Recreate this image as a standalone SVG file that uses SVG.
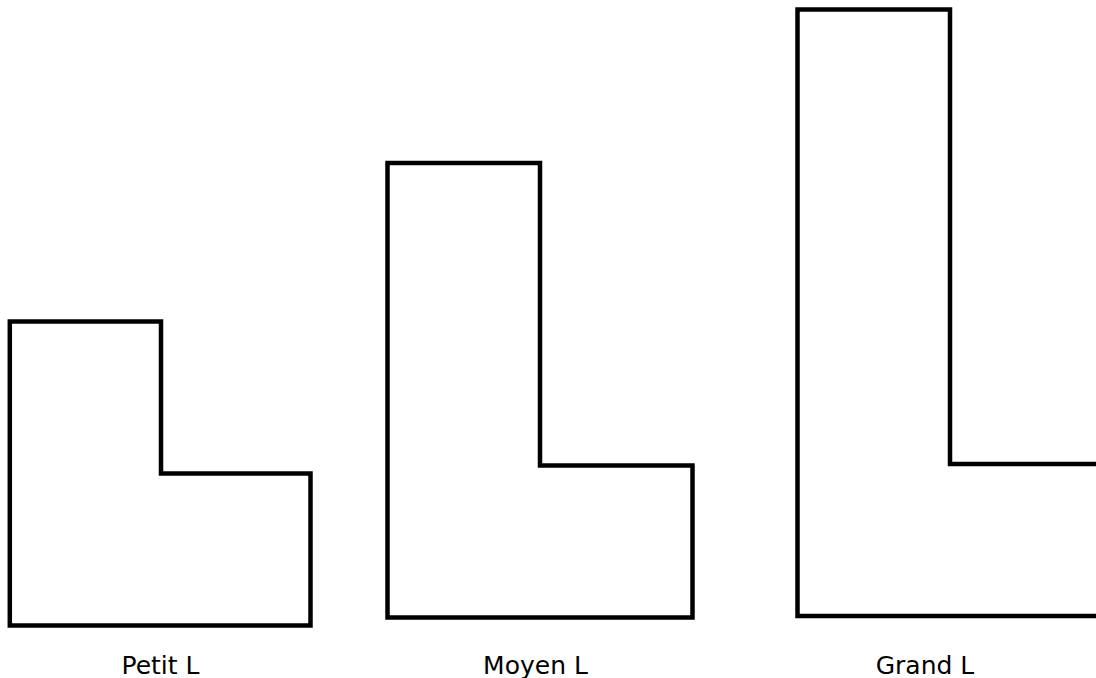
<svg xmlns="http://www.w3.org/2000/svg" width="1096" height="678" viewBox="0 0 1096 678">
<style>
.shape{fill:none;stroke:#000;stroke-width:4.5;stroke-linejoin:miter}
.lbl{font-family:"DejaVu Sans","Verdana",sans-serif;font-size:25px;fill:#000;text-anchor:middle}
</style>
<rect width="1096" height="678" fill="#fff"/>
<g id="petit">
<path class="shape" d="M9.8,321.5 H161 V473.5 H310.5 V625.5 H9.8 Z"/>
<text class="lbl" x="160.5" y="674">Petit L</text>
</g>
<g id="moyen">
<path class="shape" d="M387.5,163 H540 V465.5 H692.5 V617.5 H387.5 Z"/>
<text class="lbl" x="535.5" y="674">Moyen L</text>
</g>
<g id="grand">
<path class="shape" d="M1100,464 H950 V9.5 H797.5 V616 H1100"/>
<text class="lbl" x="925" y="674">Grand L</text>
</g>
<g id="connectors"/>
</svg>
